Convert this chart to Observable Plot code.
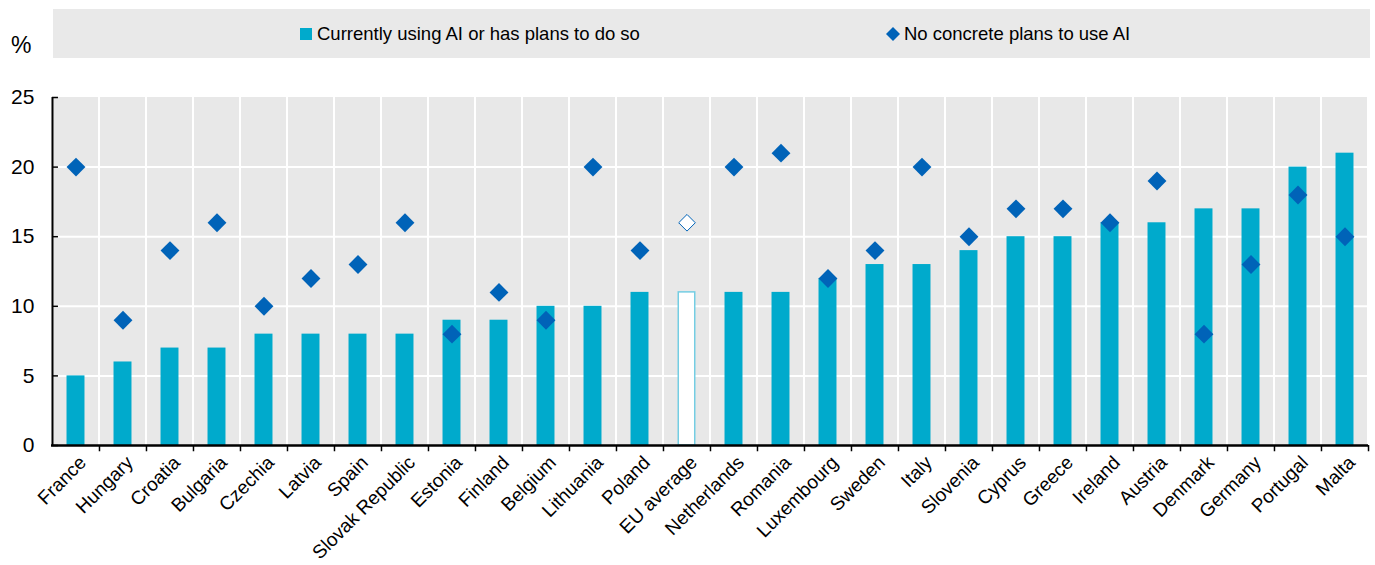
<!DOCTYPE html>
<html>
<head>
<meta charset="utf-8">
<script src="https://cdn.jsdelivr.net/npm/d3@7"></script>
<script src="https://cdn.jsdelivr.net/npm/@observablehq/plot@0.6"></script>
<style>
  body { margin: 0; background: #fff; font-family: "Liberation Sans", Arial, sans-serif; }
  #wrap { position: relative; width: 1375px; height: 565px; }
  #legend { position: relative; width: 1375px; height: 60px; }
  .lbox { position: absolute; left: 53px; top: 9px; width: 1317px; height: 49px; background: #e9e9e9; }
  .pct { position: absolute; left: 11px; top: 32px; font-size: 23px; color: #000; }
  .sw { position: absolute; left: 300px; top: 28px; width: 12px; height: 12px; background: #00aacc; }
  .lt { position: absolute; top: 23px; font-size: 18.5px; color: #000; line-height: 22px; white-space: nowrap; }
  .dm { position: absolute; left: 885px; top: 26px; }
  svg { display: block; }
</style>
</head>
<body>
<div id="wrap">
  <div id="legend">
    <div class="lbox"></div>
    <div class="pct">%</div>
    <div class="sw"></div>
    <div class="lt" style="left:317px">Currently using AI or has plans to do so</div>
    <svg class="dm" width="16" height="16"><path d="M8,1L15,8L8,15L1,8Z" fill="#0063b8"/></svg>
    <div class="lt" style="left:904px">No concrete plans to use AI</div>
  </div>
  <div id="chart"></div>
</div>
<script>
const countries = ["France","Hungary","Croatia","Bulgaria","Czechia","Latvia","Spain","Slovak Republic","Estonia","Finland","Belgium","Lithuania","Poland","EU average","Netherlands","Romania","Luxembourg","Sweden","Italy","Slovenia","Cyprus","Greece","Ireland","Austria","Denmark","Germany","Portugal","Malta"];
const usingAI = [5,6,7,7,8,8,8,8,9,9,10,10,11,11,11,11,12,13,13,14,15,15,16,16,17,17,20,21];
const noPlans = [20,9,14,16,10,12,13,16,8,11,9,20,14,16,20,21,12,14,20,15,17,17,16,19,8,13,18,15];
const yTicks = [0,5,10,15,20,25];
const highlight = "EU average";

const data = countries.map((c, i) => ({country: c, using: usingAI[i], none: noPlans[i]}));
const regular = data.filter(d => d.country !== highlight);
const avg = data.filter(d => d.country === highlight);

const bw = (1375 - 51 - 7) / countries.length;
const barInset = (bw - 18) / 2;
const FONT = "'Liberation Sans', Arial, sans-serif";

const chart = Plot.plot({
  width: 1375,
  height: 505,
  marginTop: 37,
  marginBottom: 120,
  marginLeft: 51,
  marginRight: 7,
  style: {fontFamily: FONT, fontSize: "19px", color: "#000", background: "transparent"},
  x: {domain: countries, padding: 0, axis: null},
  y: {domain: [0, 25], axis: null},
  marks: [
    Plot.barY(countries, {x: d => d, y1: 0, y2: 25, fill: "#e8e8e8", insetLeft: 1, insetRight: 1}),
    Plot.ruleY([5, 10, 15, 20], {stroke: "#fff", strokeWidth: 2}),
    Plot.barY(regular, {x: "country", y: "using", fill: "#00aacc", insetLeft: barInset, insetRight: barInset}),
    Plot.barY(avg, {x: "country", y: "using", fill: "#fff", stroke: "#74cde3", strokeWidth: 1.5, insetLeft: barInset + 0.75, insetRight: barInset + 0.75}),
    Plot.dot(regular, {x: "country", y: "none", symbol: "diamond2", r: 8.5, fill: "#0063b8", stroke: null}),
    Plot.dot(avg, {x: "country", y: "none", symbol: "diamond2", r: 7.5, fill: "#fff", stroke: "#0063b8", strokeWidth: 1}),
    Plot.tickY(yTicks, {y: d => d, x: () => countries[0], insetRight: bw - 6, stroke: "#000", strokeWidth: 1.5}),
    Plot.ruleX([countries[0]], {y1: 0, y2: 25, dx: -bw / 2, stroke: "#000", strokeWidth: 2}),
    Plot.ruleY([0], {stroke: "#000", strokeWidth: 2.5}),
    Plot.ruleX(countries.slice(1), {y1: 0, y2: -0.45, dx: -bw / 2, stroke: "#000", strokeWidth: 1.5, clip: false}),
    Plot.ruleX([countries[countries.length - 1]], {y1: 0, y2: -0.45, dx: bw / 2, stroke: "#000", strokeWidth: 1.5}),
    Plot.text(yTicks, {x: () => countries[0], y: d => d, text: d => String(d), dx: -bw / 2 - 18, textAnchor: "end", fill: "#000", fontSize: 21}),
    Plot.text(countries, {x: d => d, y: 0, text: d => d, rotate: -45, textAnchor: "end", dx: 7, dy: 14, fill: "#000", fontSize: 19})
  ]
});
document.getElementById("chart").appendChild(chart);
</script>
</body>
</html>
